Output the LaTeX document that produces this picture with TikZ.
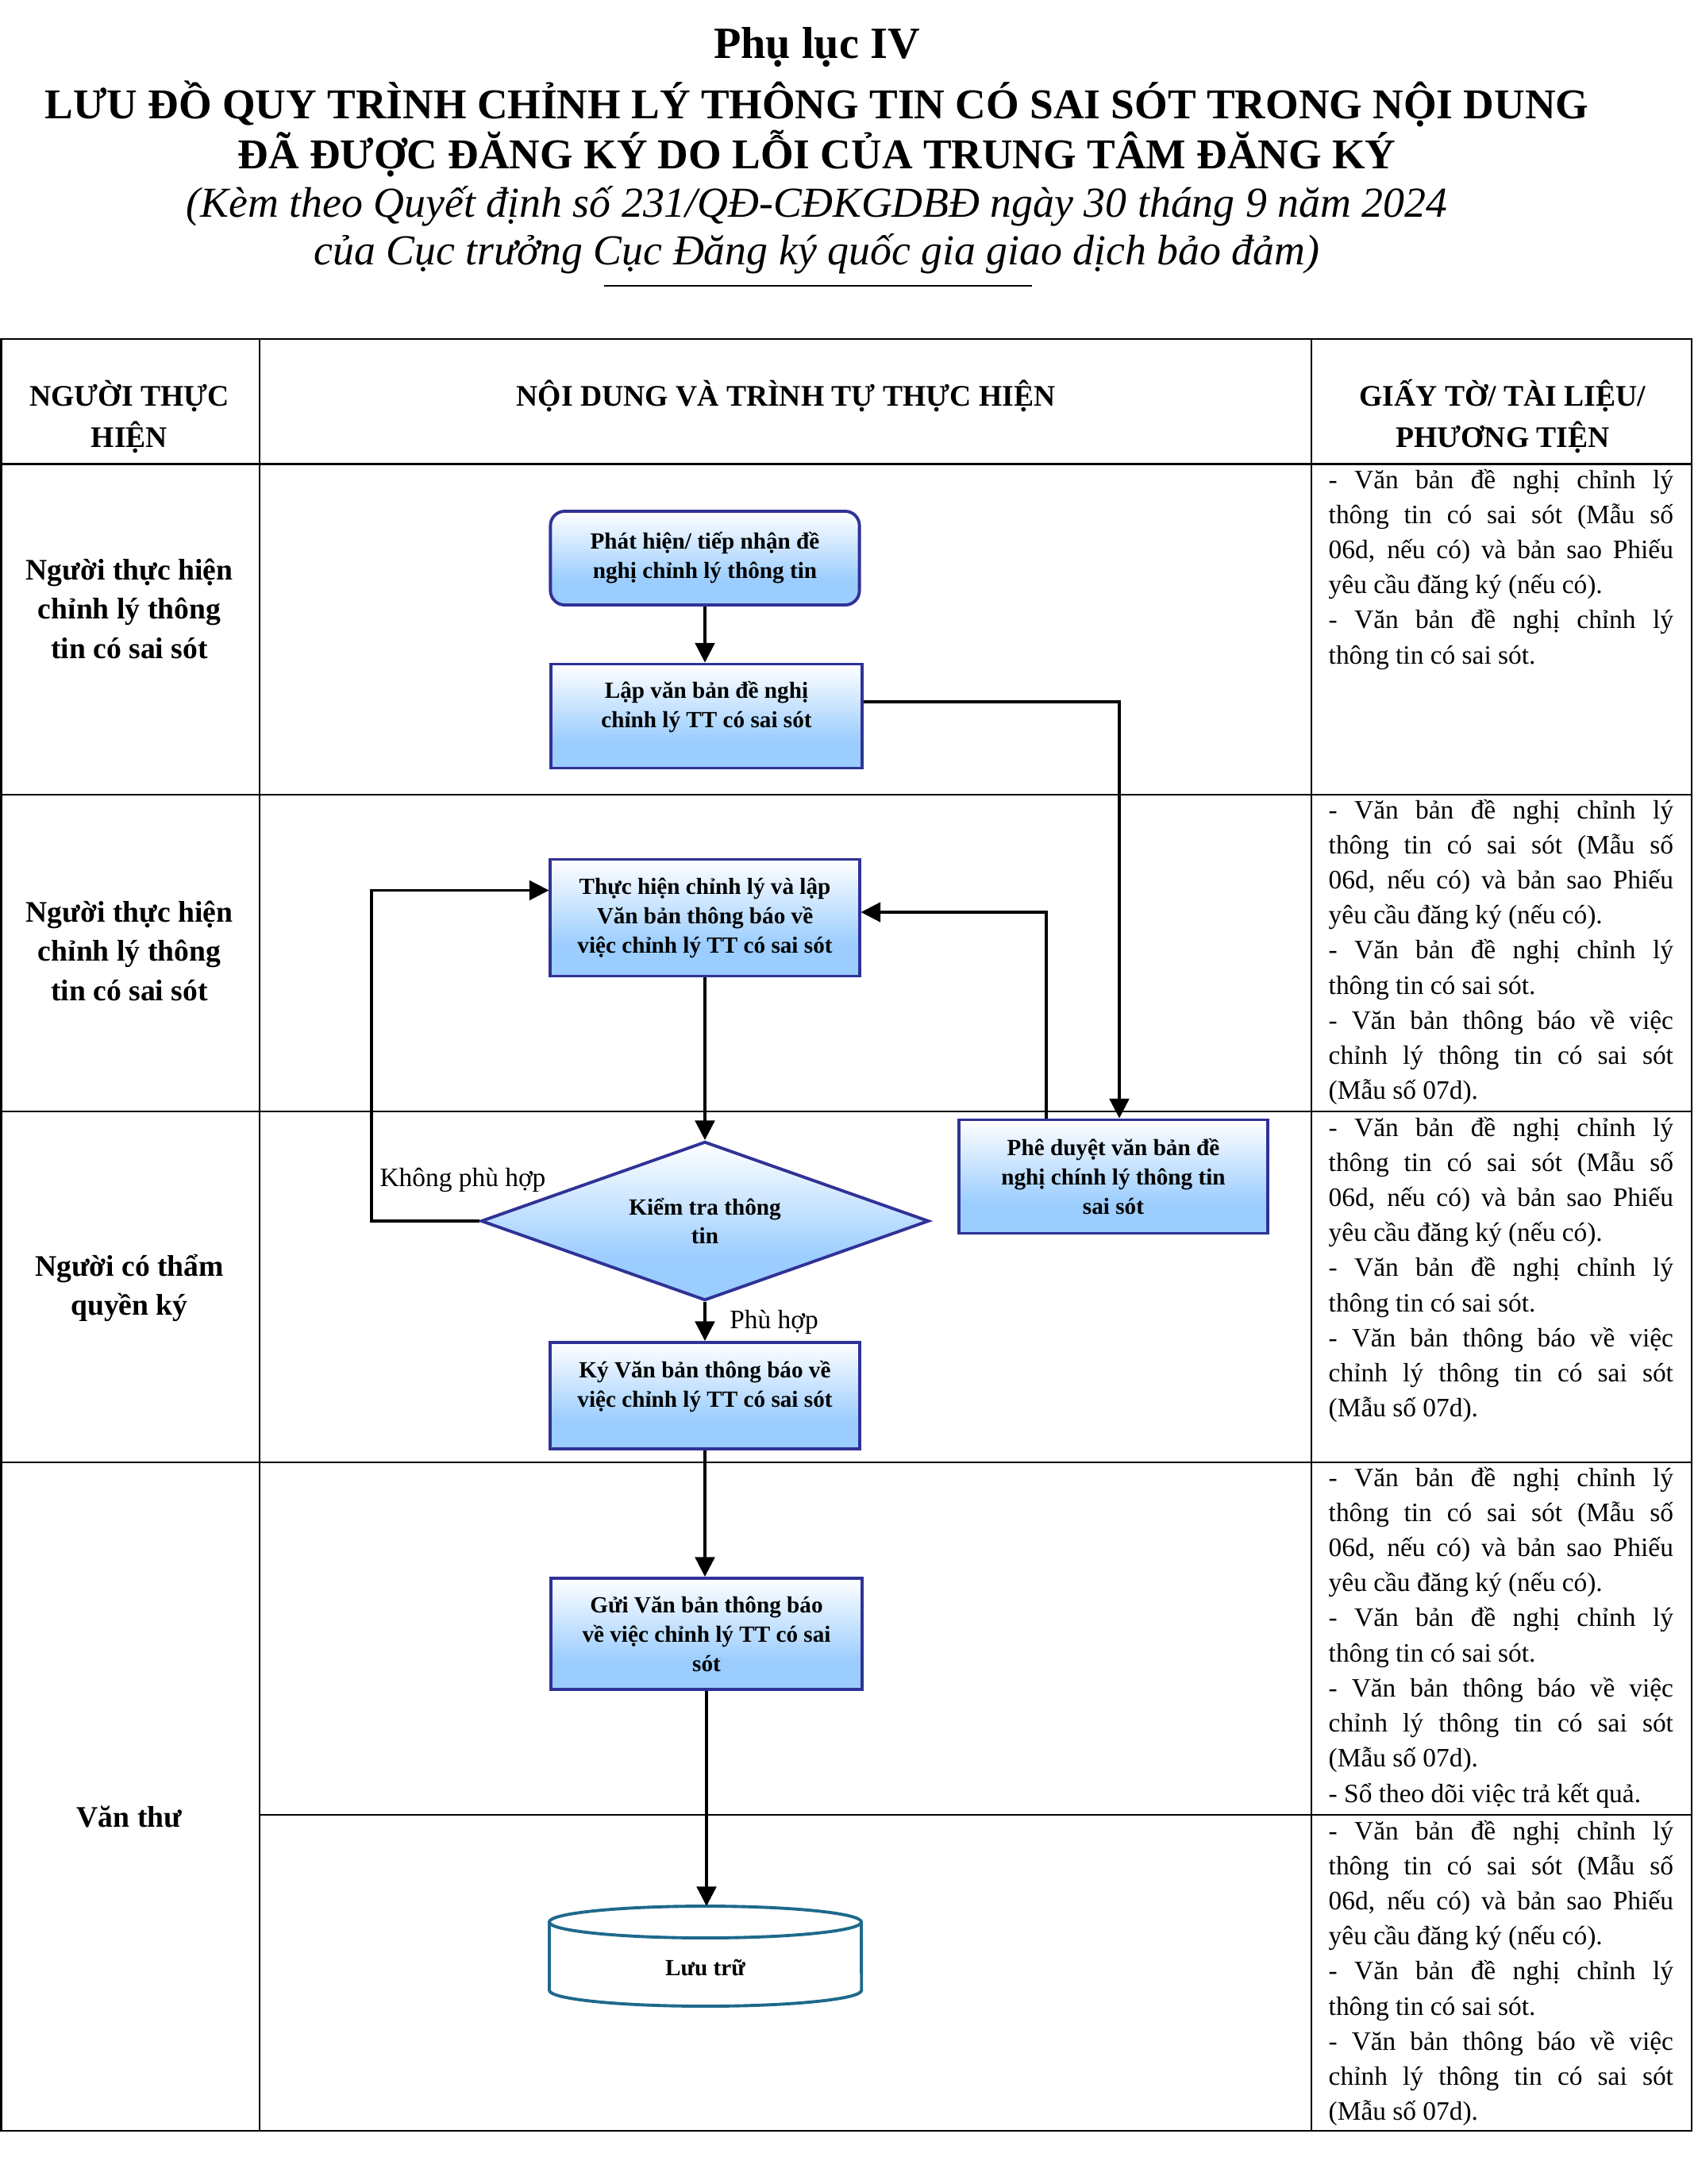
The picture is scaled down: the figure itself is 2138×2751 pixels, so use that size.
\documentclass[tikz,border=0pt]{standalone}
\usepackage{fontspec}
\setmainfont{Liberation Serif}
\usetikzlibrary{arrows.meta,shapes.geometric}
\definecolor{bblue}{RGB}{155,205,255}
\definecolor{bline}{RGB}{48,50,150}
\definecolor{cylc}{RGB}{30,105,140}
\pgfdeclareverticalshading{boxshade}{100bp}{color(0bp)=(bblue); color(25bp)=(bblue); color(38bp)=(bblue); color(75bp)=(white); color(100bp)=(white)}
\newlength\colw
\setlength\colw{4.34cm}
\newcommand\JL[1]{\makebox[\colw][s]{#1}}
\newcommand\LL[1]{\makebox[\colw][l]{#1}}
\newcommand\docone{\JL{- Văn bản đề nghị chỉnh lý}\\\JL{thông tin có sai sót (Mẫu số}\\\JL{06d, nếu có) và bản sao Phiếu}\\\LL{yêu cầu đăng ký (nếu có).}\\\JL{- Văn bản đề nghị chỉnh lý}\\\LL{thông tin có sai sót.}}
\newcommand\doctwo{\\\JL{- Văn bản thông báo về việc}\\\JL{chỉnh lý thông tin có sai sót}\\\LL{(Mẫu số 07d).}}
\newcommand\docthree{\\\LL{- Sổ theo dõi việc trả kết quả.}}
\begin{document}
\begin{tikzpicture}[x=0.01cm,y=-0.01cm,
  tbl/.style={line width=0.7pt,black},
  ttlb/.style={anchor=base,inner sep=0pt,font=\bfseries\fontsize{15.2}{18}\selectfont},
  ttli/.style={anchor=base,inner sep=0pt,font=\itshape\fontsize{15.3}{18}\selectfont},
  hdr/.style={anchor=base,inner sep=0pt,font=\bfseries\fontsize{10.7}{14.8}\selectfont},
  lab/.style={anchor=base,inner sep=0pt,font=\bfseries\fontsize{10.7}{14.2}\selectfont},
  rtext/.style={anchor=base west,inner sep=0pt,font=\fontsize{9.5}{12.58}\selectfont},
  pbox/.style={draw=bline,line width=1.1pt,shading=boxshade,inner sep=0pt,align=center,
    minimum width=3.89cm,font=\bfseries\fontsize{8.3}{10.5}\selectfont},
  dbox/.style={shape=diamond,draw=bline,line width=1.1pt,shading=boxshade,inner sep=0pt,
    aspect=2.82,align=center,minimum width=5.64cm,minimum height=2cm,font=\bfseries\fontsize{8.3}{10.5}\selectfont},
  conn/.style={line width=0.95pt,-{Triangle[length=7pt,width=7pt]}},
  lbl/.style={anchor=base,inner sep=0pt,font=\fontsize{9.5}{12}\selectfont},
  cyl/.style={draw=cylc,line width=1.1pt,fill=white}
]
\useasboundingbox (0,0) rectangle (2138,2751);
% title
\node[ttlb,font=\bfseries\fontsize{16}{19}\selectfont] (t1) at (1029,73) {Phụ lục IV};
\node[ttlb] (t2) at (1029,149) {LƯU ĐỒ QUY TRÌNH CHỈNH LÝ THÔNG TIN CÓ SAI SÓT TRONG NỘI DUNG};
\node[ttlb] (t3) at (1029,212) {ĐÃ ĐƯỢC ĐĂNG KÝ DO LỖI CỦA TRUNG TÂM ĐĂNG KÝ};
\node[ttli] (t4) at (1029,273) {(Kèm theo Quyết định số 231/QĐ-CĐKGDBĐ ngày 30 tháng 9 năm 2024};
\node[ttli] (t5) at (1029,333) {của Cục trưởng Cục Đăng ký quốc gia giao dịch bảo đảm)};
\draw[line width=0.8pt] (761,360) -- (1300,360);
% table
\draw[tbl] (1.5,427) rectangle (2131,2684);
\draw[tbl] (327,427) -- (327,2684);
\draw[tbl] (1652,427) -- (1652,2684);
\foreach \yy in {584.5,1001,1400,1842} \draw[tbl] (1.5,\yy) -- (2131,\yy);
\draw[tbl] (327,2286) -- (2131,2286);
% headers
\node[hdr] (hA) at (163,511) {\parbox[t]{3cm}{\centering NGƯỜI THỰC\\HIỆN}};
\node[hdr] (hB) at (990,511) {NỘI DUNG VÀ TRÌNH TỰ THỰC HIỆN};
\node[hdr] (hC) at (1893,511) {\parbox[t]{4.4cm}{\centering GIẤY TỜ/ TÀI LIỆU/\\PHƯƠNG TIỆN}};
% left labels
\node[lab] (l1) at (163,730) {\parbox[t]{3.2cm}{\centering Người thực hiện\\chỉnh lý thông\\tin có sai sót}};
\node[lab] (l2) at (163,1161) {\parbox[t]{3.2cm}{\centering Người thực hiện\\chỉnh lý thông\\tin có sai sót}};
\node[lab] (l3) at (163,1607) {\parbox[t]{3.2cm}{\centering Người có thẩm\\quyền ký}};
\node[lab] (l4) at (163,2301) {Văn thư};
% right column
\node[rtext] (r1) at (1673,615) {\parbox[t]{\colw}{\docone}};
\node[rtext] (r2) at (1673,1031) {\parbox[t]{\colw}{\docone\doctwo}};
\node[rtext] (r3) at (1673,1431) {\parbox[t]{\colw}{\docone\doctwo}};
\node[rtext] (r4) at (1673,1872) {\parbox[t]{\colw}{\docone\doctwo\docthree}};
\node[rtext] (r5) at (1673,2317) {\parbox[t]{\colw}{\docone\doctwo}};
% flow nodes
\node[pbox,rounded corners=0.18cm,minimum height=1.18cm] (phat) at (888,703) {Phát hiện/ tiếp nhận đề\\nghị chỉnh lý thông tin};
\node[pbox,minimum width=3.91cm,minimum height=1.31cm] (lap) at (890,902) {\raisebox{3.3pt}[\height][\depth]{\begin{tabular}{@{}c@{}}Lập văn bản đề nghị\\chỉnh lý TT có sai sót\end{tabular}}};
\node[pbox,minimum height=1.47cm] (thuc) at (888,1156) {Thực hiện chỉnh lý và lập\\Văn bản thông báo về\\việc chỉnh lý TT có sai sót};
\node[pbox,minimum height=1.43cm] (phe) at (1402.5,1482) {Phê duyệt văn bản đề\\nghị chính lý thông tin\\sai sót};
\node[dbox] (dia) at (888,1538) {Kiểm tra thông\\tin};
\node[pbox,minimum height=1.34cm] (ky) at (888,1758) {\raisebox{3.3pt}[\height][\depth]{\begin{tabular}{@{}c@{}}Ký Văn bản thông báo về\\việc chỉnh lý TT có sai sót\end{tabular}}};
\node[pbox,minimum width=3.92cm,minimum height=1.40cm] (gui) at (890,2058) {Gửi Văn bản thông báo\\về việc chỉnh lý TT có sai\\sót};
% cylinder
\filldraw[cyl] (692,2421) -- (692,2507) arc[start angle=180,end angle=360,x radius=1.965cm,y radius=0.2cm] -- (1085,2421);
\filldraw[cyl] (888.5,2421) ellipse [x radius=1.965cm,y radius=0.2cm];
\coordinate (cyltop) at (888.5,2401);
\node[anchor=base,inner sep=0pt,font=\bfseries\fontsize{8.3}{10.5}\selectfont] (luu) at (888.5,2488) {Lưu trữ};
% labels
\node[lbl] (khong) at (583,1494) {Không phù hợp};
\node[lbl] (phu) at (975,1673) {Phù hợp};
% connectors
\draw[conn] (phat.south) -- (phat.south |- lap.north);
\draw[conn] ([yshift=0.18cm]lap.east) -| ([xshift=0.075cm]phe.north);
\draw[conn] ([xshift=-0.845cm]phe.north) |- ([yshift=0.07cm]thuc.east);
\draw[conn] (thuc.south) -- (thuc.south |- dia.north);
\draw[conn] (dia.west) -- ++(-136,0) |- ([yshift=0.345cm]thuc.west);
\draw[conn] (dia.south) -- (dia.south |- ky.north);
\draw[conn] (ky.south) -- (ky.south |- gui.north);
\draw[conn] (gui.south) -- (gui.south |- cyltop);
\end{tikzpicture}
\end{document}
